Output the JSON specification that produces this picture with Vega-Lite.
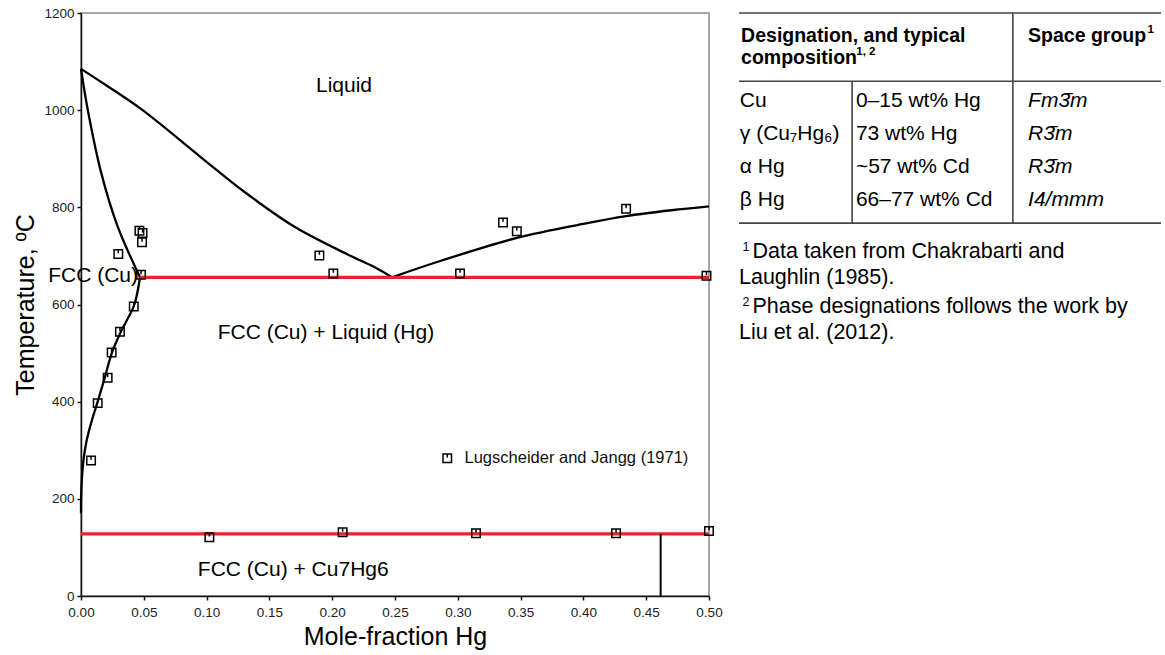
{
  "$schema": "https://vega.github.io/schema/vega-lite/v6.json",
  "padding": {"left": 13, "top": 5, "right": 0, "bottom": 0},
  "bounds": "flush",
  "spacing": 30,
  "config": {
    "font": "Liberation Sans",
    "axis": {
      "labelFont": "Liberation Sans",
      "labelFontSize": 13.5,
      "labelColor": "#222",
      "titleFont": "Liberation Sans",
      "titleFontSize": 25,
      "titleFontWeight": "normal",
      "titleColor": "#000",
      "domainColor": "#111",
      "domainWidth": 1.5,
      "tickColor": "#111",
      "tickWidth": 1.5,
      "tickSize": 4,
      "grid": false
    },
    "legend": {
      "labelFont": "Liberation Sans",
      "labelFontSize": 16.5,
      "labelColor": "#111",
      "labelLimit": 400
    }
  },
  "datasets": {
    "curves": [
      {"curve": "liquidus Cu side", "i": 0, "x": 0.0, "t": 1085},
      {"curve": "liquidus Cu side", "i": 1, "x": 0.016, "t": 1058},
      {"curve": "liquidus Cu side", "i": 2, "x": 0.048, "t": 1002},
      {"curve": "liquidus Cu side", "i": 3, "x": 0.0955, "t": 903},
      {"curve": "liquidus Cu side", "i": 4, "x": 0.13, "t": 832},
      {"curve": "liquidus Cu side", "i": 5, "x": 0.17, "t": 760},
      {"curve": "liquidus Cu side", "i": 6, "x": 0.2123, "t": 703},
      {"curve": "liquidus Cu side", "i": 7, "x": 0.2335, "t": 677},
      {"curve": "liquidus Cu side", "i": 8, "x": 0.2476, "t": 656},
      {"curve": "liquidus Hg side", "i": 0, "x": 0.2476, "t": 656},
      {"curve": "liquidus Hg side", "i": 1, "x": 0.2866, "t": 690},
      {"curve": "liquidus Hg side", "i": 2, "x": 0.347, "t": 737},
      {"curve": "liquidus Hg side", "i": 3, "x": 0.40, "t": 766},
      {"curve": "liquidus Hg side", "i": 4, "x": 0.434, "t": 782},
      {"curve": "liquidus Hg side", "i": 5, "x": 0.47, "t": 794},
      {"curve": "liquidus Hg side", "i": 6, "x": 0.5, "t": 802},
      {"curve": "solidus", "i": 0, "x": 0.0, "t": 1085},
      {"curve": "solidus", "i": 1, "x": 0.0053, "t": 1002},
      {"curve": "solidus", "i": 2, "x": 0.016, "t": 872},
      {"curve": "solidus", "i": 3, "x": 0.029, "t": 762},
      {"curve": "solidus", "i": 4, "x": 0.047, "t": 656},
      {"curve": "solvus", "i": 0, "x": 0.047, "t": 656},
      {"curve": "solvus", "i": 1, "x": 0.0425, "t": 600},
      {"curve": "solvus", "i": 2, "x": 0.036, "t": 565},
      {"curve": "solvus", "i": 3, "x": 0.031, "t": 540},
      {"curve": "solvus", "i": 4, "x": 0.0245, "t": 500},
      {"curve": "solvus", "i": 5, "x": 0.019, "t": 450},
      {"curve": "solvus", "i": 6, "x": 0.0133, "t": 400},
      {"curve": "solvus", "i": 7, "x": 0.0085, "t": 360},
      {"curve": "solvus", "i": 8, "x": 0.0045, "t": 320},
      {"curve": "solvus", "i": 9, "x": 0.002, "t": 280},
      {"curve": "solvus", "i": 10, "x": 0.0007, "t": 240},
      {"curve": "solvus", "i": 11, "x": 0.0001, "t": 200},
      {"curve": "solvus", "i": 12, "x": 0.0, "t": 170}
    ],
    "invariants": [
      {"reaction": "monotectic", "x": 0.047, "x_end": 0.5, "t": 656},
      {"reaction": "peritectic", "x": 0.0, "x_end": 0.5, "t": 128}
    ],
    "compound": [
      {"phase": "Cu7Hg6", "x": 0.4615, "t": 0, "t_top": 128}
    ],
    "measurements": [
      {"source": "Lugscheider and Jangg (1971)", "x": 0.008, "t": 279},
      {"source": "Lugscheider and Jangg (1971)", "x": 0.0133, "t": 397},
      {"source": "Lugscheider and Jangg (1971)", "x": 0.0212, "t": 449},
      {"source": "Lugscheider and Jangg (1971)", "x": 0.0244, "t": 501},
      {"source": "Lugscheider and Jangg (1971)", "x": 0.031, "t": 544},
      {"source": "Lugscheider and Jangg (1971)", "x": 0.042, "t": 596},
      {"source": "Lugscheider and Jangg (1971)", "x": 0.0478, "t": 661},
      {"source": "Lugscheider and Jangg (1971)", "x": 0.0297, "t": 704},
      {"source": "Lugscheider and Jangg (1971)", "x": 0.0465, "t": 752},
      {"source": "Lugscheider and Jangg (1971)", "x": 0.049, "t": 747},
      {"source": "Lugscheider and Jangg (1971)", "x": 0.0486, "t": 728},
      {"source": "Lugscheider and Jangg (1971)", "x": 0.1898, "t": 701},
      {"source": "Lugscheider and Jangg (1971)", "x": 0.2009, "t": 664},
      {"source": "Lugscheider and Jangg (1971)", "x": 0.3018, "t": 664},
      {"source": "Lugscheider and Jangg (1971)", "x": 0.336, "t": 769},
      {"source": "Lugscheider and Jangg (1971)", "x": 0.347, "t": 751},
      {"source": "Lugscheider and Jangg (1971)", "x": 0.434, "t": 797},
      {"source": "Lugscheider and Jangg (1971)", "x": 0.498, "t": 659},
      {"source": "Lugscheider and Jangg (1971)", "x": 0.1022, "t": 121},
      {"source": "Lugscheider and Jangg (1971)", "x": 0.2083, "t": 131},
      {"source": "Lugscheider and Jangg (1971)", "x": 0.3145, "t": 129},
      {"source": "Lugscheider and Jangg (1971)", "x": 0.426, "t": 129},
      {"source": "Lugscheider and Jangg (1971)", "x": 0.5, "t": 134}
    ],
    "regions": [
      {"label": "Liquid", "x": 0.2094, "t": 1050},
      {"label": "FCC (Cu)", "x": 0.0096, "t": 659},
      {"label": "FCC (Cu) + Liquid (Hg)", "x": 0.195, "t": 541},
      {"label": "FCC (Cu) + Cu7Hg6", "x": 0.169, "t": 53}
    ],
    "tableRules": [
      {"x": 0, "x_end": 1, "line": 0, "line_end": 0},
      {"x": 0, "x_end": 1, "line": 3.1, "line_end": 3.1},
      {"x": 0, "x_end": 1, "line": 9.55, "line_end": 9.55},
      {"x": 0.649, "x_end": 0.649, "line": 0, "line_end": 9.55},
      {"x": 0.268, "x_end": 0.268, "line": 3.1, "line_end": 9.55}
    ],
    "tableHeader": [
      {"text": "Designation, and typical", "x": 0.005, "line": 1.05},
      {"text": "composition", "x": 0.005, "line": 2.05},
      {"text": "Space group", "x": 0.685, "line": 1.05}
    ],
    "tableHeaderNotes": [
      {"text": "1, 2", "x": 0.278, "line": 1.78},
      {"text": "1", "x": 0.968, "line": 0.78}
    ],
    "tableBody": [
      {"text": "Cu", "x": 0.002, "line": 4.0},
      {"text": "0–15 wt% Hg", "x": 0.277, "line": 4.0},
      {"text": "γ (Cu₇Hg₆)", "x": 0.002, "line": 5.5},
      {"text": "73 wt% Hg", "x": 0.277, "line": 5.5},
      {"text": "α Hg", "x": 0.002, "line": 7.0},
      {"text": "~57 wt% Cd", "x": 0.277, "line": 7.0},
      {"text": "β Hg", "x": 0.002, "line": 8.5},
      {"text": "66–77 wt% Cd", "x": 0.277, "line": 8.5}
    ],
    "tableSpaceGroups": [
      {"text": "Fm3̄m", "x": 0.685, "line": 4.0},
      {"text": "R3̄m", "x": 0.685, "line": 5.5},
      {"text": "R3̄m", "x": 0.685, "line": 7.0},
      {"text": "I4/mmm", "x": 0.685, "line": 8.5}
    ],
    "footnotes": [
      {"text": "Data taken from Chakrabarti and", "x": 0.032, "line": 10.86},
      {"text": "Laughlin (1985).", "x": 0.0, "line": 12.05},
      {"text": "Phase designations follows the work by", "x": 0.032, "line": 13.36},
      {"text": "Liu et al. (2012).", "x": 0.0, "line": 14.55}
    ],
    "footnoteMarks": [
      {"text": "1", "x": 0.008, "line": 10.62},
      {"text": "2", "x": 0.008, "line": 13.12}
    ]
  },
  "hconcat": [
    {
      "width": 628,
      "height": 583,
      "view": {"stroke": "#8c8c8c", "strokeWidth": 1.5},
      "layer": [
        {
          "data": {"name": "curves"},
          "mark": {"type": "line", "color": "#000", "strokeWidth": 2.3, "interpolate": "catmull-rom"},
          "encoding": {
            "x": {
              "field": "x", "type": "quantitative",
              "scale": {"domain": [0, 0.5], "nice": false, "zero": false},
              "axis": {
                "title": "Mole-fraction Hg",
                "values": [0, 0.05, 0.1, 0.15, 0.2, 0.25, 0.3, 0.35, 0.4, 0.45, 0.5],
                "format": ".2f",
                "labelFlush": false,
                "labelOverlap": false,
                "labelPadding": 5,
                "titlePadding": 6
              }
            },
            "y": {
              "field": "t", "type": "quantitative",
              "scale": {"domain": [0, 1200], "nice": false},
              "axis": {
                "title": "Temperature, ºC",
                "values": [0, 200, 400, 600, 800, 1000, 1200],
                "format": "d",
                "labelPadding": 3,
                "titlePadding": 5
              }
            },
            "detail": {"field": "curve"},
            "order": {"field": "i"}
          }
        },
        {
          "data": {"name": "invariants"},
          "mark": {"type": "rule", "color": "#e4262b", "strokeWidth": 3.2},
          "encoding": {
            "x": {"field": "x", "type": "quantitative"},
            "x2": {"field": "x_end"},
            "y": {"field": "t", "type": "quantitative"}
          }
        },
        {
          "data": {"name": "compound"},
          "mark": {"type": "rule", "color": "#000", "strokeWidth": 2},
          "encoding": {
            "x": {"field": "x", "type": "quantitative"},
            "y": {"field": "t", "type": "quantitative"},
            "y2": {"field": "t_top"}
          }
        },
        {
          "data": {"name": "measurements"},
          "mark": {"type": "point", "filled": false, "color": "#000", "strokeWidth": 1.5, "size": 72, "opacity": 1},
          "encoding": {
            "x": {"field": "x", "type": "quantitative"},
            "y": {"field": "t", "type": "quantitative"},
            "shape": {
              "field": "source", "type": "nominal",
              "scale": {"range": ["M-1,-1H1V1H-1Z M0,-1V-0.15"]},
              "legend": {
                "title": null,
                "orient": "none",
                "legendX": 358,
                "legendY": 437,
                "padding": 0,
                "symbolSize": 72,
                "symbolStrokeWidth": 1.5,
                "symbolStrokeColor": "#000",
                "labelOffset": 9
              }
            }
          }
        },
        {
          "data": {"name": "regions"},
          "mark": {"type": "text", "fontSize": 21, "color": "#000", "align": "center", "baseline": "middle"},
          "encoding": {
            "x": {"field": "x", "type": "quantitative"},
            "y": {"field": "t", "type": "quantitative"},
            "text": {"field": "label"}
          }
        }
      ]
    },
    {
      "width": 422,
      "height": 330,
      "view": {"stroke": null},
      "layer": [
        {
          "data": {"name": "tableRules"},
          "mark": {"type": "rule", "color": "#444", "strokeWidth": 1.6},
          "encoding": {
            "x": {"field": "x", "type": "quantitative", "scale": {"domain": [0, 1], "nice": false, "zero": false}, "axis": null},
            "x2": {"field": "x_end"},
            "y": {"field": "line", "type": "quantitative", "scale": {"domain": [0, 15], "nice": false, "reverse": true}, "axis": null},
            "y2": {"field": "line_end"}
          }
        },
        {
          "data": {"name": "tableHeader"},
          "mark": {"type": "text", "fontSize": 19.5, "fontWeight": "bold", "color": "#000", "align": "left", "baseline": "middle"},
          "encoding": {
            "x": {"field": "x", "type": "quantitative"},
            "y": {"field": "line", "type": "quantitative"},
            "text": {"field": "text"}
          }
        },
        {
          "data": {"name": "tableHeaderNotes"},
          "mark": {"type": "text", "fontSize": 11.5, "fontWeight": "bold", "color": "#000", "align": "left", "baseline": "middle"},
          "encoding": {
            "x": {"field": "x", "type": "quantitative"},
            "y": {"field": "line", "type": "quantitative"},
            "text": {"field": "text"}
          }
        },
        {
          "data": {"name": "tableBody"},
          "mark": {"type": "text", "fontSize": 21, "color": "#000", "align": "left", "baseline": "middle"},
          "encoding": {
            "x": {"field": "x", "type": "quantitative"},
            "y": {"field": "line", "type": "quantitative"},
            "text": {"field": "text"}
          }
        },
        {
          "data": {"name": "tableSpaceGroups"},
          "mark": {"type": "text", "fontSize": 21, "fontStyle": "italic", "color": "#000", "align": "left", "baseline": "middle"},
          "encoding": {
            "x": {"field": "x", "type": "quantitative"},
            "y": {"field": "line", "type": "quantitative"},
            "text": {"field": "text"}
          }
        },
        {
          "data": {"name": "footnotes"},
          "mark": {"type": "text", "fontSize": 21.5, "color": "#000", "align": "left", "baseline": "middle"},
          "encoding": {
            "x": {"field": "x", "type": "quantitative"},
            "y": {"field": "line", "type": "quantitative"},
            "text": {"field": "text"}
          }
        },
        {
          "data": {"name": "footnoteMarks"},
          "mark": {"type": "text", "fontSize": 12.5, "color": "#000", "align": "left", "baseline": "middle"},
          "encoding": {
            "x": {"field": "x", "type": "quantitative"},
            "y": {"field": "line", "type": "quantitative"},
            "text": {"field": "text"}
          }
        }
      ]
    }
  ]
}
